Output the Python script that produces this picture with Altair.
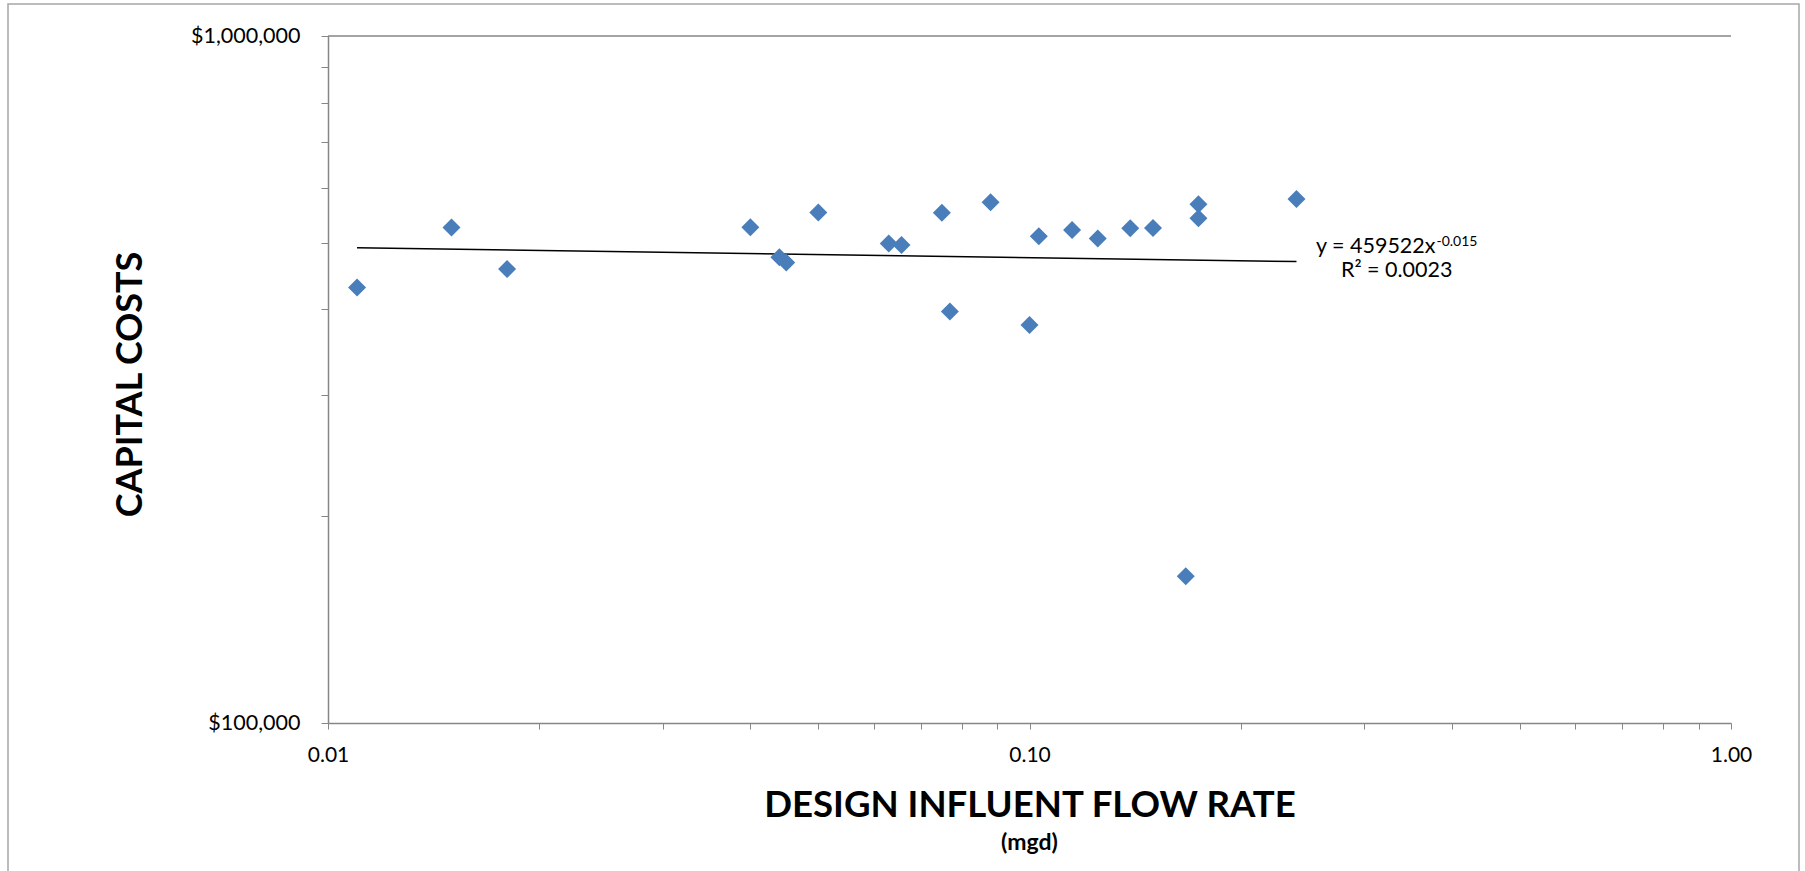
import altair as alt
import pandas as pd

# ---- data ----
flow = [0.0110, 0.0150, 0.0180, 0.0400, 0.0440, 0.0450, 0.0500, 0.0630, 0.0657,
        0.0750, 0.0770, 0.0880, 0.1000, 0.1031, 0.1150, 0.1251, 0.1392, 0.1500,
        0.1670, 0.1741, 0.1741, 0.2402]
cost = [430300, 526200, 457800, 526900, 476400, 467900, 553400, 498800, 496200,
        552800, 397100, 572800, 379700, 511200, 522100, 507200, 525200, 525500,
        163500, 569100, 543000, 579000]

# power trend line end points (straight on log-log axes)
trend_flow = [0.0110, 0.2402]
trend_cost = [491600, 469600]

x_ticks = [0.01, 0.02, 0.03, 0.04, 0.05, 0.06, 0.07, 0.08, 0.09,
           0.1, 0.2, 0.3, 0.4, 0.5, 0.6, 0.7, 0.8, 0.9, 1.0]
y_ticks = [100000, 200000, 300000, 400000, 500000, 600000, 700000, 800000,
           900000, 1000000]

eq_text = "y = 459522x"
eq_sup = "-0.015"
r2_text = "R\u00b2 = 0.0023"
x_title = "DESIGN INFLUENT FLOW RATE"
x_subtitle = "(mgd)"
y_title = "CAPITAL COSTS"

FONT = "Lato"
AXIS_GREY = "#868686"
W, H = 1403, 687

df = pd.DataFrame({"flow": flow, "cost": cost})
trend_df = pd.DataFrame({"flow": trend_flow, "cost": trend_cost})
one = alt.Data(values=[{}])

x_scale = alt.Scale(type="log", domain=[0.01, 1], nice=False)
y_scale = alt.Scale(type="log", domain=[100000, 1000000], nice=False)

x_axis = alt.Axis(
    values=x_ticks,
    labelExpr="datum.value == 0.01 ? '0.01' : datum.value == 0.1 ? '0.10' : datum.value == 1 ? '1.00' : ''",
    labelFont=FONT, labelFontSize=21, labelColor="black", labelPadding=15,
    labelOverlap=False, labelFlush=False,
    tickSize=6, tickColor=AXIS_GREY, tickWidth=1,
    domainColor=AXIS_GREY, domainWidth=1.5, grid=False,
    title=x_title, titleFont=FONT, titleFontSize=36.6, titleFontWeight="bold",
    titleColor="black", titleX=W / 2, titleY=93.8, titleBaseline="alphabetic",
    titleAlign="center",
)
y_axis = alt.Axis(
    values=y_ticks,
    labelExpr="datum.value == 100000 ? '$100,000' : datum.value == 1000000 ? '$1,000,000' : ''",
    labelFont=FONT, labelFontSize=21.5, labelColor="black", labelPadding=21,
    labelOverlap=False, labelFlush=False,
    tickSize=7, tickColor=AXIS_GREY, tickWidth=1,
    domainColor=AXIS_GREY, domainWidth=1.5, grid=False,
    title=y_title, titleFont=FONT, titleFontSize=36, titleFontWeight="bold",
    titleColor="black", titleAngle=270, titleX=-186.3, titleY=348,
    titleBaseline="alphabetic", titleAlign="center",
)

points = alt.Chart(df).mark_point(
    shape="diamond", filled=True, size=324, color="#4A7EBB", opacity=1, strokeWidth=0
).encode(
    x=alt.X("flow:Q", scale=x_scale, axis=x_axis),
    y=alt.Y("cost:Q", scale=y_scale, axis=y_axis),
)

trend = alt.Chart(trend_df).mark_line(color="black", strokeWidth=1.5).encode(
    x=alt.X("flow:Q", scale=x_scale),
    y=alt.Y("cost:Q", scale=y_scale),
)

top_rule = alt.Chart(one).mark_rule(color=AXIS_GREY, strokeWidth=1.5).encode(
    y=alt.datum(1000000)
)

frame = alt.Chart(one).mark_rect(
    filled=False, stroke="#A6A6A6", strokeWidth=1.5
).encode(
    x=alt.value(-320), x2=alt.value(1471), y=alt.value(-32), y2=alt.value(860)
)

eq1 = alt.Chart(one).mark_text(
    font=FONT, fontSize=21.5, color="black", align="right", baseline="alphabetic"
).encode(x=alt.value(1107.5), y=alt.value(216.7), text=alt.value(eq_text))

eq_s = alt.Chart(one).mark_text(
    font=FONT, fontSize=14, color="black", align="left", baseline="alphabetic"
).encode(x=alt.value(1108.5), y=alt.value(210), text=alt.value(eq_sup))

r2 = alt.Chart(one).mark_text(
    font=FONT, fontSize=21.5, color="black", align="center", baseline="alphabetic"
).encode(x=alt.value(1068.7), y=alt.value(241.3), text=alt.value(r2_text))

sub = alt.Chart(one).mark_text(
    font=FONT, fontSize=23, fontWeight="bold", color="black", align="center",
    baseline="middle"
).encode(x=alt.value(W / 2), y=alt.value(807), text=alt.value(x_subtitle))

chart = alt.layer(frame, top_rule, trend, points, eq1, eq_s, r2, sub).properties(
    width=W, height=H,
    autosize=alt.AutoSizeParams(type="none"),
    padding={"left": 328, "top": 36, "right": 74, "bottom": 148},
    background="white",
).configure_view(strokeWidth=0)

chart.save("out.html", embed_options={"renderer": "svg", "actions": False})
